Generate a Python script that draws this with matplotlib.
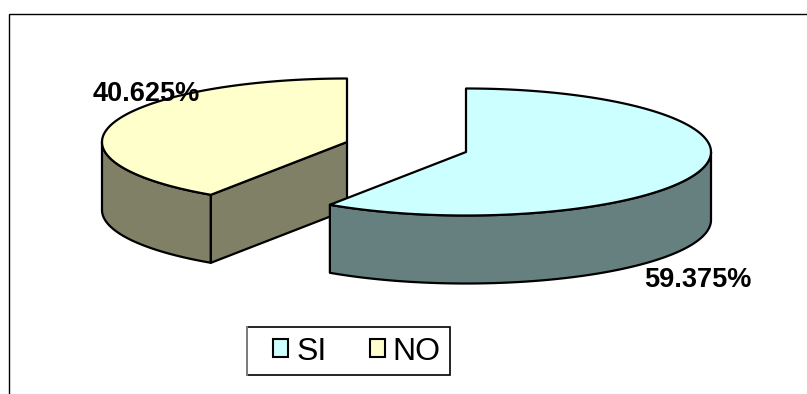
import numpy as np
import matplotlib
matplotlib.use("Agg")
import matplotlib.pyplot as plt
from matplotlib.patches import Patch, Polygon, Rectangle

categories = ["SI", "NO"]
values = [59.375, 40.625]
top_colors = ["#CCFFFF", "#FFFFCC"]
side_colors = ["#668080", "#808066"]

W, H = 807, 394
RX, RY, DEPTH = 245, 63.5, 68
centers = [(466, 152), (347, 142)]
label_pos = [(697.5, 280), (146, 94)]

plt.rcParams["font.family"] = ["Liberation Sans", "DejaVu Sans"]
fig = plt.figure(figsize=(W / 100, H / 100), dpi=100)
ax = fig.add_axes([0, 0, 1, 1])
ax.set_xlim(0, W)
ax.set_ylim(H, 0)
ax.axis("off")

ax.plot([9.2, 9.2, W], [H, 14.2, 14.2], color="black", lw=1.0, solid_joinstyle="miter")


def arc(c, a0, a1, dy=0.0, n=200):
    # angles in degrees, clockwise from 12 o'clock
    t = np.radians(np.linspace(a0, a1, n))
    return np.column_stack([c[0] + RX * np.sin(t), c[1] - RY * np.cos(t) + dy])


def poly(pts, fc, z):
    ax.add_patch(Polygon(pts, closed=True, facecolor=fc, edgecolor="black",
                         lw=1.6, joinstyle="round", zorder=z))


fractions = np.array(values) / sum(values)
edges = np.concatenate([[0], np.cumsum(fractions) * 360])

# NO slice (back-left) first, SI slice on top of it
for i in [1, 0]:
    c = centers[i]
    a0, a1 = edges[i], edges[i + 1]
    z = 2 + (1 - i) * 3
    # outer wall: visible part between 90 and 270 degrees
    v0, v1 = max(a0, 90), min(a1, 270)
    if v1 > v0:
        top = arc(c, v0, v1)
        bot = arc(c, v0, v1, DEPTH)
        poly(np.vstack([top, bot[::-1]]), side_colors[i], z)
    # radial wall facing the viewer on the NO slice
    if a0 > 180:
        p = arc(c, a0, a0, n=1)[0]
        poly([c, p, (p[0], p[1] + DEPTH), (c[0], c[1] + DEPTH)], side_colors[i], z)
    # top face
    poly(np.vstack([[c], arc(c, a0, a1)]), top_colors[i], z + 1)

for v, pos in zip(values, label_pos):
    ax.text(pos[0], pos[1], f"{v:.3f}%", fontsize=19.5, fontweight="bold",
            ha="center", va="center", color="black", zorder=10)

# legend frame: the entries sit off-centre inside it, with a grey left edge
ax.add_patch(Rectangle((247, 326.5), 203, 48, facecolor="white", edgecolor="black",
                       lw=1.2, zorder=11))
ax.plot([247, 247], [326.5, 374.5], color="#808080", lw=1.4, zorder=12)

handles = [Patch(facecolor=col, edgecolor="black", lw=1.5) for col in top_colors]
leg = ax.legend(handles, categories, ncol=2, loc="center",
                bbox_to_anchor=(357 / W, 1 - 351.5 / H), fontsize=23,
                frameon=False, handlelength=0.47, handleheight=0.47,
                handletextpad=0.25, columnspacing=1.34, borderpad=0, borderaxespad=0)
leg.set_zorder(13)

fig.savefig("out.png", dpi=100)
